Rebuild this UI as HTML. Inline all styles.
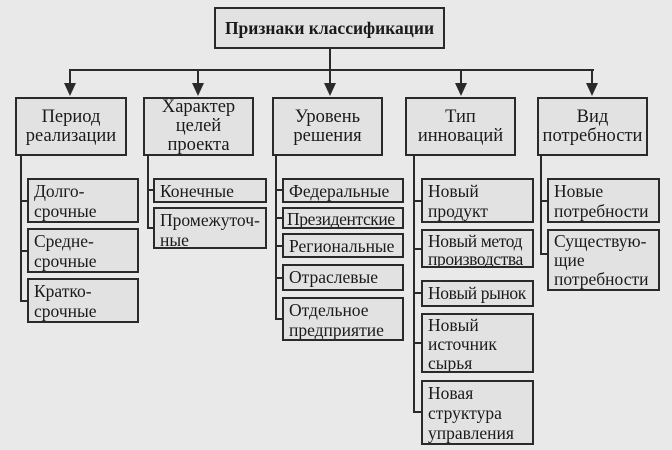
<!DOCTYPE html>
<html><head><meta charset="utf-8"><style>
body{margin:0;width:672px;height:450px;background:#e9e9e9;overflow:hidden;position:relative;font-family:"Liberation Serif","DejaVu Serif",serif;color:#1a1a1a}
.b{position:absolute;box-sizing:border-box;border:2px solid #2a2a2a;background:#e2e2e2;font-size:17.5px;line-height:20px;padding:1px 0 0 5px;white-space:nowrap;overflow:hidden}
.h{text-align:center;padding:0;display:flex;align-items:center;justify-content:center;font-size:18.5px;line-height:19px}
.l{position:absolute;background:#2a2a2a}
.t{letter-spacing:-0.4px}
</style></head><body>
<div class="b h" style="left:214px;top:7px;width:231px;height:42px;font-weight:bold;font-size:17.5px">Признаки классификации</div>
<div class="l" style="left:329px;top:48px;width:2px;height:22px"></div>
<div class="l" style="left:69px;top:69px;width:525px;height:2px"></div>
<svg style="position:absolute;left:0;top:0" width="672" height="100">
<g fill="#2a2a2a" stroke="#2a2a2a" stroke-width="2">
<line x1="70" y1="70" x2="70" y2="90"/><line x1="198" y1="70" x2="198" y2="90"/><line x1="330" y1="70" x2="330" y2="90"/><line x1="461" y1="70" x2="461" y2="90"/><line x1="592" y1="70" x2="592" y2="90"/>
<polygon points="64,83 76,83 70,96" stroke="none"/><polygon points="192,83 204,83 198,96" stroke="none"/><polygon points="324,83 336,83 330,96" stroke="none"/><polygon points="455,83 467,83 461,96" stroke="none"/><polygon points="586,83 598,83 592,96" stroke="none"/>
</g></svg>
<div class="b h" style="left:15px;top:97px;width:112px;height:59px">Период<br>реализации</div>
<div class="b h" style="left:143px;top:97px;width:111px;height:59px">Характер<br>целей<br>проекта</div>
<div class="b h" style="left:272px;top:97px;width:111px;height:59px">Уровень<br>решения</div>
<div class="b h" style="left:405px;top:97px;width:111px;height:59px">Тип<br>инноваций</div>
<div class="b h" style="left:537px;top:97px;width:111px;height:59px">Вид<br>потребности</div>
<!-- col1 -->
<div class="l" style="left:20px;top:155px;width:2px;height:146px"></div>
<div class="l" style="left:20px;top:200px;width:8px;height:2px"></div>
<div class="l" style="left:20px;top:250px;width:8px;height:2px"></div>
<div class="l" style="left:20px;top:300px;width:8px;height:2px"></div>
<div class="b" style="left:27px;top:178px;width:112px;height:45px">Долго-<br>срочные</div>
<div class="b" style="left:27px;top:228px;width:112px;height:45px">Средне-<br>срочные</div>
<div class="b" style="left:27px;top:278px;width:112px;height:45px">Кратко-<br>срочные</div>
<!-- col2 -->
<div class="l" style="left:147px;top:155px;width:2px;height:74px"></div>
<div class="l" style="left:147px;top:189px;width:7px;height:2px"></div>
<div class="l" style="left:147px;top:227px;width:7px;height:2px"></div>
<div class="b" style="left:153px;top:178px;width:114px;height:25px">Конечные</div>
<div class="b" style="left:153px;top:207px;width:114px;height:42px">Промежуточ-<br>ные</div>
<!-- col3 -->
<div class="l" style="left:275px;top:155px;width:2px;height:165px"></div>
<div class="l" style="left:275px;top:189px;width:8px;height:2px"></div>
<div class="l" style="left:275px;top:217px;width:8px;height:2px"></div>
<div class="l" style="left:275px;top:245px;width:8px;height:2px"></div>
<div class="l" style="left:275px;top:277px;width:8px;height:2px"></div>
<div class="l" style="left:275px;top:318px;width:8px;height:2px"></div>
<div class="b" style="left:282px;top:178px;width:122px;height:25px">Федеральные</div>
<div class="b t" style="left:282px;top:207px;width:122px;height:22px;line-height:18px;padding-left:3px">Президентские</div>
<div class="b" style="left:282px;top:233px;width:122px;height:25px">Региональные</div>
<div class="b" style="left:282px;top:264px;width:122px;height:27px">Отраслевые</div>
<div class="b" style="left:282px;top:297px;width:122px;height:44px">Отдельное<br>предприятие</div>
<!-- col4 -->
<div class="l" style="left:413px;top:155px;width:2px;height:258px"></div>
<div class="l" style="left:413px;top:200px;width:9px;height:2px"></div>
<div class="l" style="left:413px;top:248px;width:9px;height:2px"></div>
<div class="l" style="left:413px;top:292px;width:9px;height:2px"></div>
<div class="l" style="left:413px;top:342px;width:9px;height:2px"></div>
<div class="l" style="left:413px;top:411px;width:9px;height:2px"></div>
<div class="b" style="left:421px;top:178px;width:113px;height:45px">Новый<br>продукт</div>
<div class="b t" style="left:421px;top:229px;width:113px;height:39px;line-height:18px">Новый метод<br>производства</div>
<div class="b t" style="left:421px;top:280px;width:113px;height:27px">Новый рынок</div>
<div class="b" style="left:421px;top:313px;width:113px;height:60px;line-height:19px">Новый<br>источник<br>сырья</div>
<div class="b" style="left:421px;top:380px;width:113px;height:65px">Новая<br>структура<br>управления</div>
<!-- col5 -->
<div class="l" style="left:540px;top:155px;width:2px;height:100px"></div>
<div class="l" style="left:540px;top:200px;width:8px;height:2px"></div>
<div class="l" style="left:540px;top:253px;width:8px;height:2px"></div>
<div class="b" style="left:547px;top:178px;width:113px;height:45px">Новые<br>потребности</div>
<div class="b" style="left:547px;top:229px;width:113px;height:62px;line-height:19px">Существую-<br>щие<br>потребности</div>
</body></html>
